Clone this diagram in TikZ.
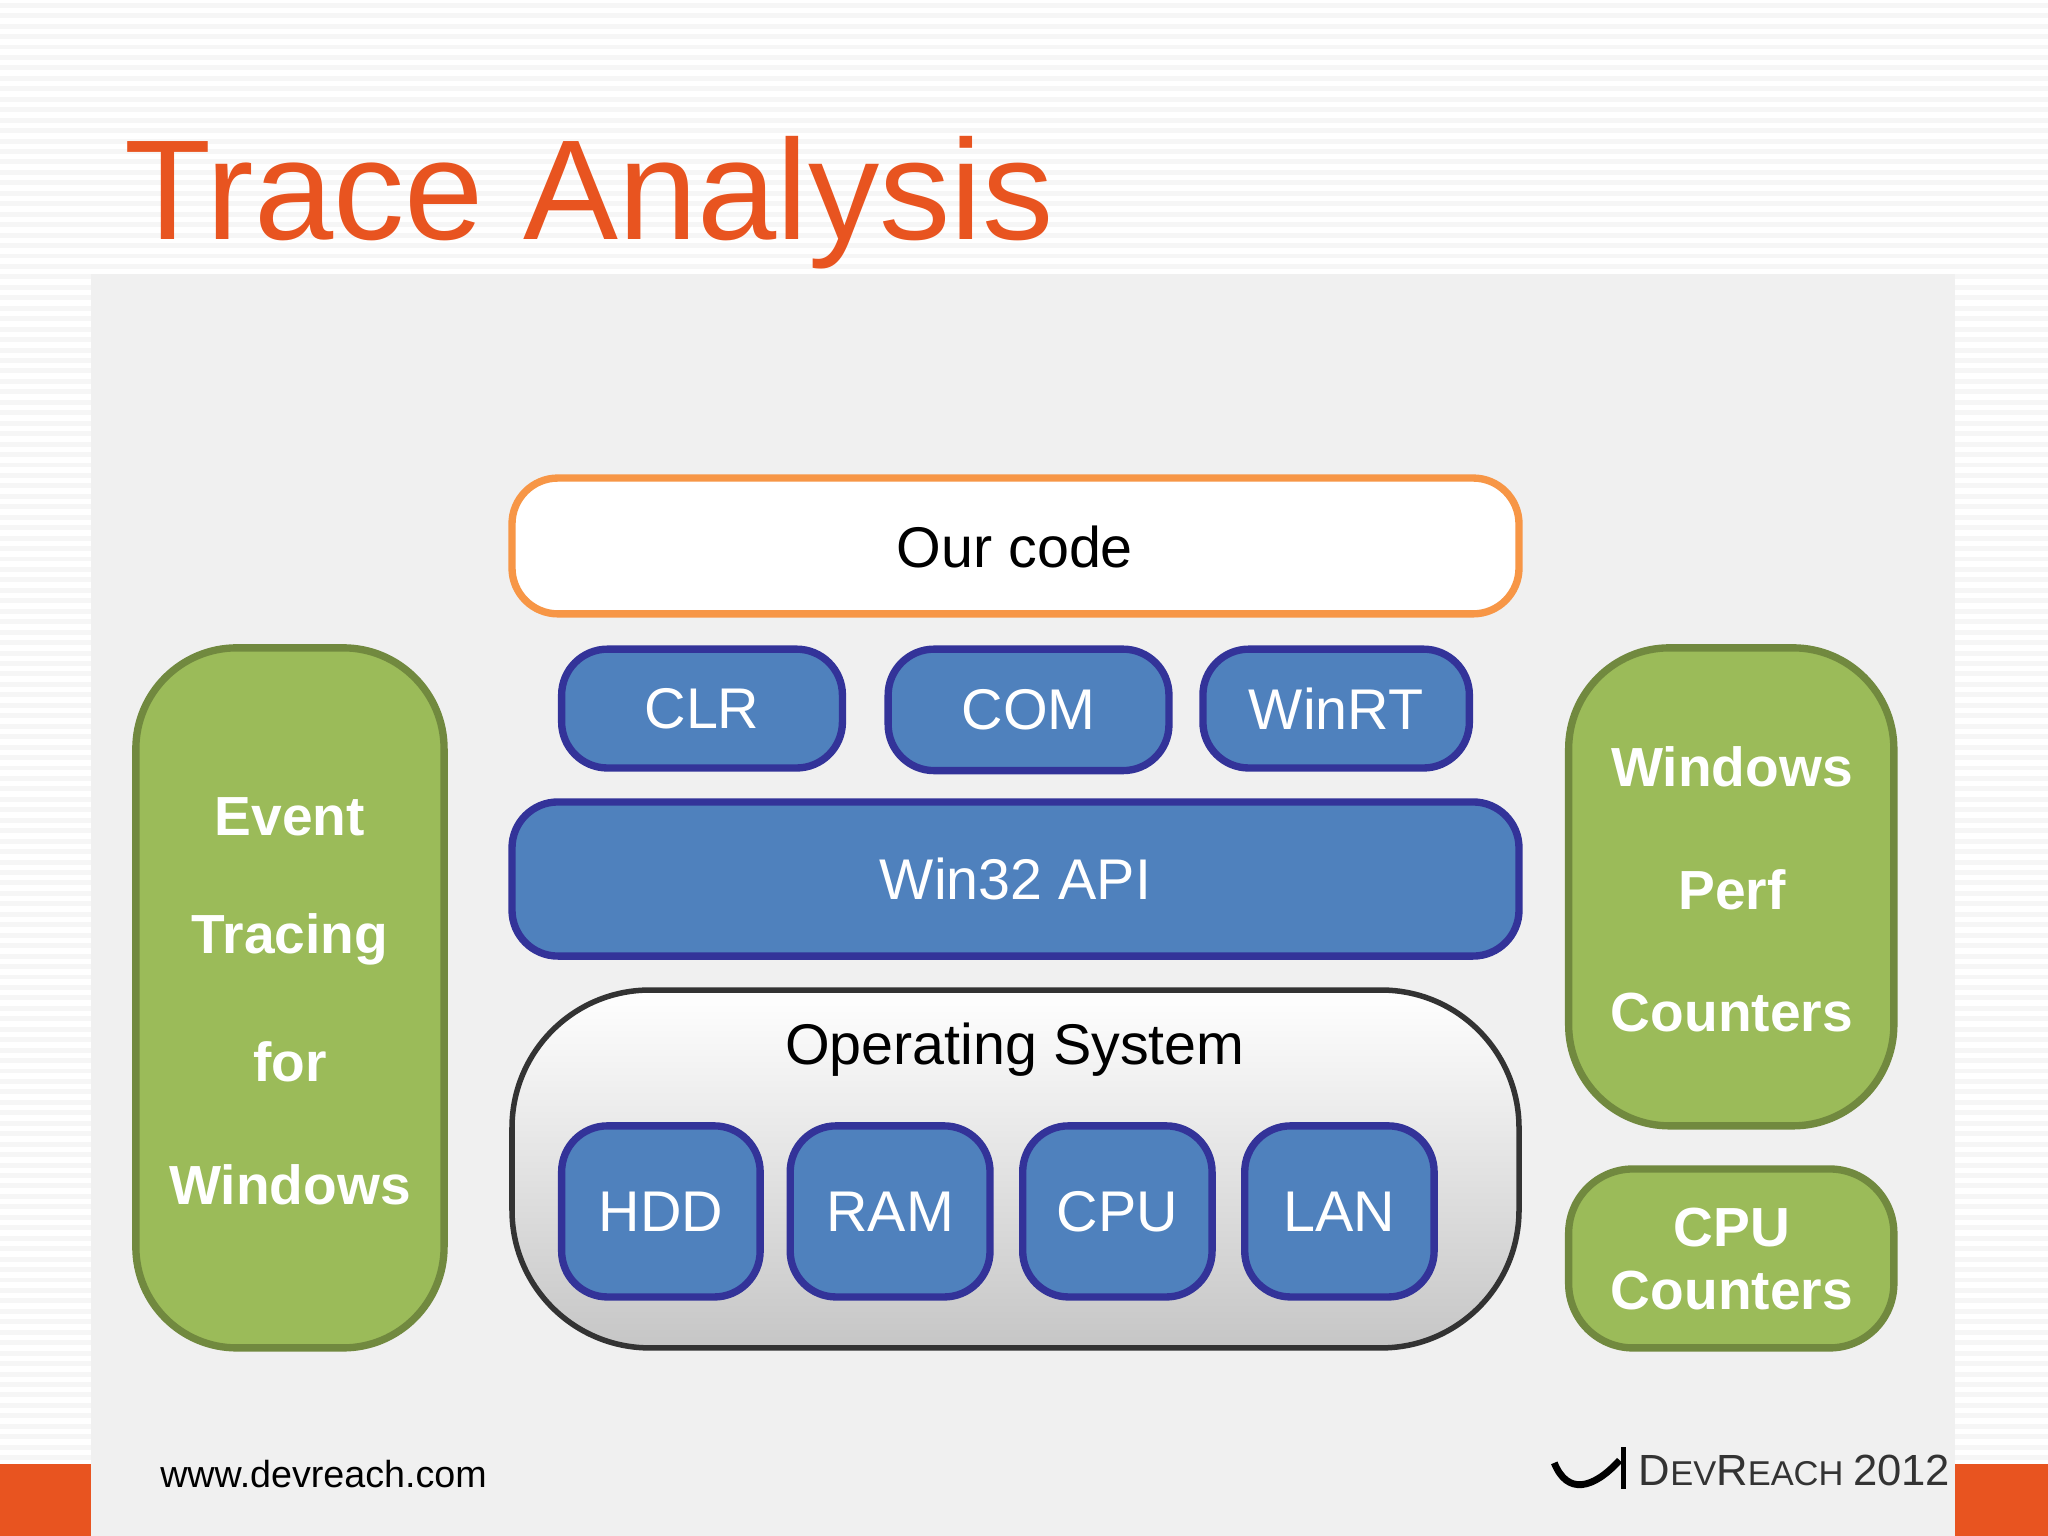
\documentclass[tikz,border=0pt]{standalone}
\usepackage{fontspec}
\setmainfont{Liberation Sans}
\begin{document}
\begin{tikzpicture}[x=0.01cm,y=-0.01cm,
  blue/.style={draw=blue!50!black!80, fill={rgb,255:red,79;green,129;blue,189}, line width=1.6pt, rounded corners=10pt, text=white, font=\fontsize{12.5}{14}\selectfont},
  green/.style={draw={rgb,255:red,113;green,137;blue,63}, fill={rgb,255:red,155;green,187;blue,89}, line width=1.6pt, rounded corners=22pt, text=white, font=\bfseries\fontsize{12}{14}\selectfont},
  lbl/.style={font=\fontsize{12.5}{14}\selectfont}]
\definecolor{org}{RGB}{232,84,32}
\useasboundingbox (0,0) rectangle (1568,1176);
\fill[gray!7] (0,0) rectangle (1568,1176);
\foreach \y in {0,8,...,1176} \draw[white,line width=1.2pt] (0,\y) -- (1568,\y);
\fill[gray!12] (70,210) rectangle (1497,1176);
\fill[org] (0,1121) rectangle (70,1176);
\fill[org] (1497,1121) rectangle (1568,1176);
\node[anchor=base west, text=org, font=\fontsize{31}{34}\selectfont, inner sep=0] (title) at (95,183) {Trace Analysis};
% our code
\draw[draw={rgb,255:red,247;green,150;blue,70}, fill=white, line width=1.6pt, rounded corners=10pt] (392,366) rectangle (1163,470);
\node[lbl] (our) at (777,419) {Our code};
\draw[blue] (430,497) rectangle (645,588) node[midway] (clr) {CLR};
\draw[blue] (680,497) rectangle (895,590) node[midway] (com) {COM};
\draw[blue] (921,497) rectangle (1125,588) node[midway] (winrt) {WinRT};
\draw[blue] (392,614) rectangle (1163,732) node[midway] (win32) {Win32 API};
% OS
\draw[black!80, line width=1.2pt, rounded corners=30pt, top color=white, bottom color=gray!45] (392,758) rectangle (1163,1032);
\node[lbl] (os) at (777,804) {Operating System};
\draw[blue] (430,862) rectangle (582,993) node[midway] (hdd) {HDD};
\draw[blue] (605,862) rectangle (758,993) node[midway] (ram) {RAM};
\draw[blue] (783,862) rectangle (928,993) node[midway] (cpu) {CPU};
\draw[blue] (953,862) rectangle (1098,993) node[midway] (lan) {LAN};
% green
\draw[green] (104,496) rectangle (340,1032);
\node[text=white, font=\bfseries\fontsize{12}{14}\selectfont] (e1) at (222,625) {Event};
\node[text=white, font=\bfseries\fontsize{12}{14}\selectfont] (e2) at (222,719) {Tracing};
\node[text=white, font=\bfseries\fontsize{12}{14}\selectfont] (e3) at (222,813) {for};
\node[text=white, font=\bfseries\fontsize{12}{14}\selectfont] (e4) at (222,907) {Windows};
\draw[green] (1201,496) rectangle (1450,862);
\node[text=white, font=\bfseries\fontsize{12}{14}\selectfont] (w1) at (1326,587) {Windows};
\node[text=white, font=\bfseries\fontsize{12}{14}\selectfont] (w2) at (1326,681) {Perf};
\node[text=white, font=\bfseries\fontsize{12}{14}\selectfont] (w3) at (1326,775) {Counters};
\draw[green, rounded corners=14pt] (1201,895) rectangle (1450,1032);
\node[text=white, font=\bfseries\fontsize{12}{13.8}\selectfont, align=center] (cc) at (1326,964) {CPU\\Counters};
% footer
\node[anchor=base west, inner sep=0, font=\fontsize{8.2}{10}\selectfont] (url) at (122,1139) {www.devreach.com};
\draw[black, line width=1.5pt] (1190,1120) .. controls (1200,1145) and (1220,1140) .. (1240,1118);
\draw[black, line width=1pt] (1243,1108) -- (1243,1140);
\node[anchor=base west, inner sep=0, text=black!80, font=\fontsize{9.5}{11}\selectfont] (dr) at (1254,1137) {D\fontsize{7.5}{9}\selectfont EV\fontsize{9.5}{11}\selectfont R\fontsize{7.5}{9}\selectfont EACH \fontsize{9.5}{11}\selectfont 2012};
\end{tikzpicture}
\end{document}
